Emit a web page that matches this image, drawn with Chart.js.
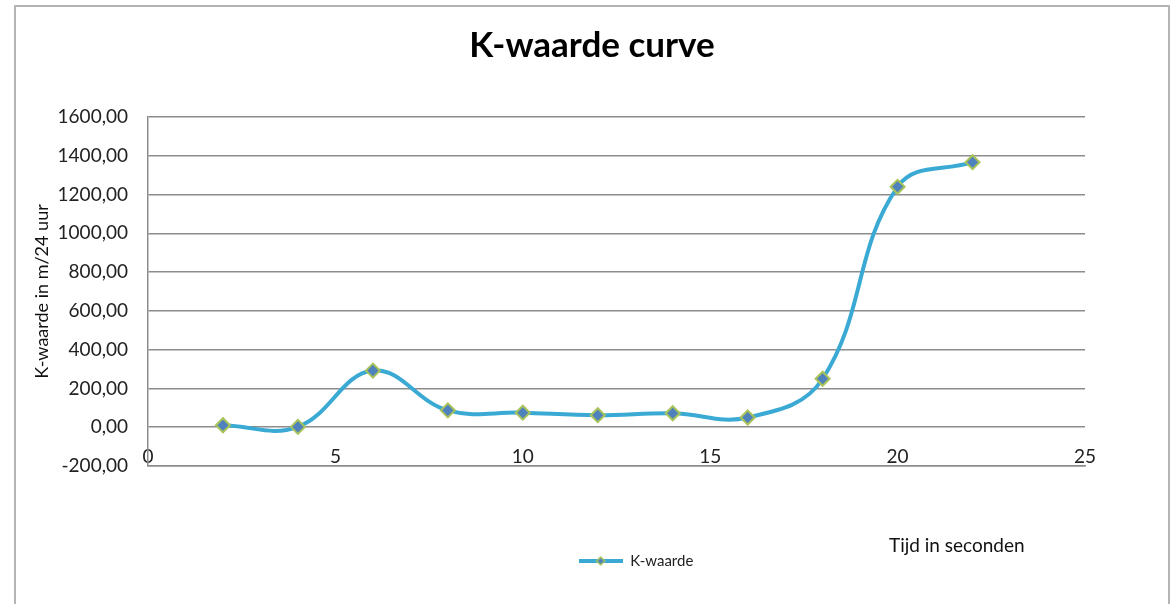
<!DOCTYPE html>
<html>
<head>
<meta charset="utf-8">
<script src="https://cdn.jsdelivr.net/npm/chart.js@4"></script>
<style>
  body { margin: 0; background: #fff; }
  #wrap { position: relative; width: 1175px; height: 604px; overflow: hidden; }
  #frame { position: absolute; left: 14px; top: 5px; width: 1152px; height: 700px;
           border: 2px solid #b4b4b4; border-bottom: none; pointer-events: none; }
</style>
</head>
<body>
<div id="wrap">
  <canvas id="myChart" width="1175" height="604"></canvas>
  <div id="frame"></div>
</div>
<script>
// data
const tijd = [2, 4, 6, 8, 10, 12, 14, 16, 18, 20, 22];
const kWaarde = [10, 2, 292, 87, 75, 62, 72, 50, 250, 1240, 1367];
const seriesName = 'K-waarde';
const chartTitle = 'K-waarde curve';
const xTitle = 'Tijd in seconden';
const yTitle = 'K-waarde in m/24 uur';

const lineColor = '#3aa9d3';
const markerFill = '#4f81bd';
const markerBorder = '#a8c35a';

// small legend symbol: line with a diamond
const legendSym = document.createElement('canvas');
legendSym.width = 44;
legendSym.height = 12;
(function () {
    let c = legendSym.getContext('2d');
    c.strokeStyle = lineColor;
    c.lineWidth = 4;
    c.beginPath();
    c.moveTo(0, 6);
    c.lineTo(44, 6);
    c.stroke();
    c.fillStyle = markerFill;
    c.strokeStyle = markerBorder;
    c.lineWidth = 1.5;
    c.beginPath();
    c.moveTo(22, 2); c.lineTo(26, 6); c.lineTo(22, 10); c.lineTo(18, 6);
    c.closePath();
    c.fill();
    c.stroke();
})();

const xTitlePlugin = {
    id: 'xTitle',
    afterDraw(chart) {
        let ctx = chart.ctx;
        ctx.save();
        ctx.font = '19px Lato';
        ctx.fillStyle = '#111';
        ctx.textAlign = 'left';
        ctx.textBaseline = 'middle';
        ctx.fillText(xTitle, 889, 546);
        ctx.restore();
    }
};

const boxShift = {
    id: 'boxShift',
    afterLayout(chart) {
        // title and legend sit right of the plot centre in the original
        chart.titleBlock.left += 42;
        chart.titleBlock.right += 42;
        chart.legend.left += 86;
        chart.legend.right += 86;
    }
};

const ctx = document.getElementById('myChart');

var chart = new Chart(ctx, {
    type: 'line',
    data: {
        datasets: [{
            label: seriesName,
            data: tijd.map((t, i) => ({x: t, y: kWaarde[i]})),
            borderColor: lineColor,
            backgroundColor: markerFill,
            borderWidth: 4,
            tension: 0.4,
            pointStyle: 'rectRot',
            pointRadius: 7,
            pointBorderWidth: 2,
            pointBackgroundColor: markerFill,
            pointBorderColor: markerBorder
        }]
    },
    plugins: [xTitlePlugin, boxShift],
    options: {
        responsive: false,
        animation: false,
        devicePixelRatio: 1,
        layout: {
            padding: {left: 15, top: 5, right: 90, bottom: 25.5}
        },
        plugins: {
            title: {
                display: true,
                text: chartTitle,
                color: '#000',
                font: {family: 'Lato', size: 35, weight: 'bold'},
                padding: {top: 20, bottom: 50}
            },
            legend: {
                position: 'bottom',
                labels: {
                    color: '#222',
                    font: {family: 'Lato', size: 15},
                    usePointStyle: true,
                    pointStyleWidth: 44,
                    padding: 10,
                    generateLabels(chart) {
                        return Chart.defaults.plugins.legend.labels.generateLabels(chart)
                            .map(l => Object.assign(l, {pointStyle: legendSym}));
                    }
                }
            },
            tooltip: {enabled: false}
        },
        scales: {
            x: {
                type: 'linear',
                min: 0,
                max: 25,
                grid: {display: false, drawTicks: false},
                border: {display: true, color: '#8c8c8c', width: 1.5},
                ticks: {
                    stepSize: 5,
                    mirror: true,
                    padding: -2,
                    color: '#222',
                    font: {family: 'Lato', size: 19}
                },
                afterFit(scale) { scale.height = 77.5; }
            },
            y: {
                min: -200,
                max: 1600,
                grid: {color: '#8c8c8c', lineWidth: 1.5, drawTicks: false},
                border: {display: true, color: '#8c8c8c', width: 1.5},
                ticks: {
                    stepSize: 200,
                    padding: 20,
                    color: '#222',
                    font: {family: 'Lato', size: 19},
                    callback: (v) => v.toFixed(2).replace('.', ',')
                },
                title: {
                    display: true,
                    text: yTitle,
                    color: '#111',
                    font: {family: 'Lato', size: 18},
                    padding: {top: 16, bottom: 0}
                },
                afterFit(scale) { scale.width = 133; }
            }
        }
    }
});
</script>
</body>
</html>
